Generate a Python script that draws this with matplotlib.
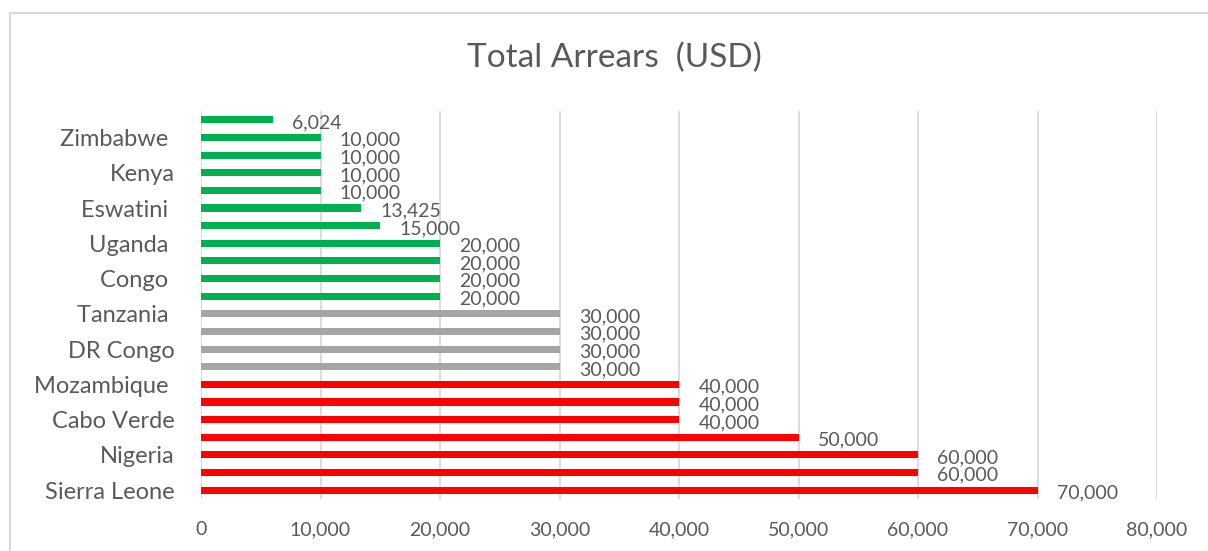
import matplotlib.pyplot as plt
from matplotlib.patches import Rectangle

# bottom to top; Excel only prints every other category name
countries = ["Sierra Leone", "", "Nigeria", "", "Cabo Verde", "", "Mozambique ",
             "", "DR Congo", "", "Tanzania ", "", "Congo ", "", "Uganda ",
             "", "Eswatini ", "", "Kenya", "", "Zimbabwe ", ""]
arrears = [70000, 60000, 60000, 50000, 40000, 40000, 40000,
           30000, 30000, 30000, 30000,
           20000, 20000, 20000, 20000, 15000, 13425,
           10000, 10000, 10000, 10000, 6024]
groups = ["high"] * 7 + ["mid"] * 4 + ["low"] * 11
xticks = [0, 10000, 20000, 30000, 40000, 50000, 60000, 70000, 80000]

group_colors = {"high": "#FF0000", "mid": "#A5A5A5", "low": "#00B050"}
text_col = "#595959"

plt.rcParams["font.family"] = ["Lato", "DejaVu Sans"]

fig = plt.figure(figsize=(12.08, 5.51), dpi=100)
ax = fig.add_axes([0.1664, 0.0944, 0.7914, 0.7041])

ypos = list(range(len(arrears)))
ax.barh(ypos, arrears, height=0.4, color=[group_colors[g] for g in groups], zorder=3)

for y, v in zip(ypos, arrears):
    ax.annotate(f"{v:,}", (v, y), xytext=(14, -2), textcoords="offset points",
                ha="left", va="center", fontsize=14, color=text_col, zorder=4)

ax.set_xlim(0, 80000)
ax.set_ylim(-0.5, len(arrears) - 0.5)
ax.set_xticks(xticks)
ax.set_xticklabels([f"{t:,}" for t in xticks])
ax.set_yticks(ypos)
ax.set_yticklabels(countries)
ax.tick_params(axis="both", length=0, labelcolor=text_col)
ax.tick_params(axis="x", pad=16, labelsize=14)
ax.tick_params(axis="y", pad=19, labelsize=17)
ax.grid(axis="x", color="#D9D9D9", linewidth=1.3, zorder=0)
for s in ax.spines.values():
    s.set_visible(False)

fig.text(0.509, 0.895, "Total Arrears  (USD)", ha="center", va="center",
         fontsize=24, color=text_col)

# chart frame (only top and left edges are inside the picture)
fig.patches.append(Rectangle((9.5 / 1208, -0.1), 1.2, 1.1 - 12.5 / 551,
                             transform=fig.transFigure, fill=False,
                             edgecolor="#D9D9D9", linewidth=1.5))

fig.savefig("out.png", dpi=100)
